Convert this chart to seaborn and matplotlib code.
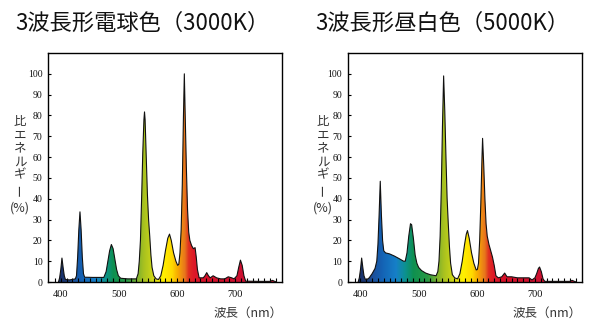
import numpy as np
import pandas as pd
import matplotlib
matplotlib.use("Agg")
import matplotlib.pyplot as plt
import seaborn as sns
from matplotlib import font_manager
from matplotlib.colors import LinearSegmentedColormap

# ---------------- data ----------------
titles = ["3波長形電球色（3000K）", "3波長形昼白色（5000K）"]
ylabel_chars = ["比", "エ", "ネ", "ル", "ギ", "ー", "(%)"]
xlabel_text = "波長（nm）"
xticks_major = [400, 500, 600, 700]
yticks = [0, 10, 20, 30, 40, 50, 60, 70, 80, 90, 100]

wl_3000 = [396, 398, 400, 402, 404, 406, 408, 415, 425, 427, 429, 431, 433, 435, 437, 439,
           441, 455, 474, 478, 481, 484, 487, 490, 493, 496, 499, 503, 515, 530, 533, 535,
           537, 539, 541, 543, 544, 545, 547, 549, 551, 553, 555, 557, 560, 564, 568, 572,
           576, 580, 584, 587, 590, 594, 598, 601, 603, 605, 607, 609, 611, 612.5, 614, 616,
           618, 620, 622, 625, 628, 631, 633, 635, 638, 645, 648, 651, 654, 657, 662, 668,
           675, 682, 688, 694, 698, 703, 706, 709, 712, 715, 718, 740, 760, 764, 768, 771]
e_3000 = [0, 2, 6, 11.5, 7, 3, 1.2, 1, 1.5, 3, 12, 25, 33.7, 25, 12, 4,
          2.3, 2.2, 2.2, 5, 10, 15, 18, 16, 11, 6, 3, 1.8, 1.5, 1.5, 4, 10,
          20, 40, 62, 78, 81.7, 78, 60, 42, 30, 22, 13, 7, 3, 1.5, 1.2, 3,
          8, 15, 21, 23, 20, 14, 10, 8, 8.5, 14, 25, 47, 80, 100, 80, 55,
          35, 24, 20, 17.5, 16, 16.5, 12, 6, 2, 2, 3, 4.5, 3, 2, 3, 2,
          1.5, 1.5, 2.5, 2, 1.5, 3, 7, 10.5, 8, 3, 0.4, 0.3, 0.3, 0.8, 0.3, 0]

wl_5000 = [396, 398, 400, 402, 404, 406, 408, 410, 415, 420, 425, 428, 430, 432, 434, 436,
           438, 440, 443, 450, 458, 466, 474, 477, 480, 483, 486, 488, 491, 494, 497, 500,
           505, 512, 520, 530, 533, 535, 537, 539, 541, 543, 545, 547, 549, 551, 553, 555,
           558, 562, 567, 571, 575, 579, 582, 584, 587, 591, 595, 599, 601, 603, 605, 607,
           609, 610, 612, 614, 616, 618, 621, 624, 627, 630, 633, 637, 643, 648, 652, 660,
           670, 680, 690, 695, 700, 703, 706, 708, 711, 714, 717, 740, 760, 764, 768, 771]
e_5000 = [0, 2, 6, 11.5, 7, 3, 1.5, 1, 2, 4, 6.5, 10, 18, 32, 48.4, 32,
          20, 15, 14, 13.5, 12.5, 11.3, 10, 10, 14, 22, 28, 27.5, 21, 13, 9, 7,
          5.5, 4.3, 3.5, 3, 5, 10, 22, 45, 75, 99, 82, 60, 40, 28, 17, 9,
          3.5, 2, 1.5, 4, 10, 18, 23, 24.7, 21, 14, 9, 5.8, 6, 9, 20, 38,
          60, 69, 56, 40, 28, 22, 18, 15, 12, 8, 3, 2, 2.5, 4.3, 2.5, 2.5,
          2, 2, 2, 1, 2, 4, 6.5, 7.2, 5, 1.5, 0.3, 0.3, 0.3, 0.8, 0.3, 0]

spectra = [(wl_3000, e_3000), (wl_5000, e_5000)]

# wavelength -> colour stops of the fill gradient
grad_wl = [380, 405, 420, 436, 460, 476, 490, 515, 530, 542, 556, 566, 576, 592, 600,
           607, 613, 620, 628, 645, 700, 780]
grad_col = ["#14285a", "#1a3570", "#1c4f9a", "#1462b4", "#1680c8", "#0c9290", "#0e9050",
            "#2a9a45", "#78b030", "#a6c020", "#c8d418", "#e8e410", "#fff000", "#ffd800",
            "#f8b000", "#f09010", "#e8781c", "#e03020", "#de1a28", "#d81028", "#d01030",
            "#c01030"]

# ---------------- style ----------------
sns.set_style("white")
plt.rcParams['font.family'] = ['Noto Sans CJK JP', 'DejaVu Sans']


def pick_font(names):
    for n in names:
        try:
            font_manager.findfont(n, fallback_to_default=False)
            return n
        except Exception:
            pass
    return 'DejaVu Serif'


tick_font = pick_font(['Liberation Sans Narrow', 'Liberation Serif', 'DejaVu Serif'])

W, H = 604, 334
fig = plt.figure(figsize=(W / 100, H / 100), dpi=100)

lo, hi = grad_wl[0], grad_wl[-1]
cmap = LinearSegmentedColormap.from_list(
    "spec", [((w - lo) / (hi - lo), c) for w, c in zip(grad_wl, grad_col)])

ax_lefts = [48, 347.7]
ax_w = 234.3
ax_top, ax_bot = 53, 282
title_x = [15, 315]
ylab_x = [20, 323]

for i, (wl, e) in enumerate(spectra):
    ax = fig.add_axes([ax_lefts[i] / W, 1 - ax_bot / H, ax_w / W, (ax_bot - ax_top) / H])
    ax.set_axisbelow(False)
    df = pd.DataFrame({"wl": wl, "e": e})
    poly = ax.fill_between(df["wl"], 0, df["e"], facecolor="none", edgecolor="none")
    grad = np.linspace(0, 1, 800).reshape(1, -1)
    im = ax.imshow(grad, cmap=cmap, aspect="auto", extent=[lo, hi, 0, 110],
                   origin="lower", zorder=1, interpolation="bilinear")
    path = poly.get_paths()[0]
    im.set_clip_path(path, transform=ax.transData)
    sns.lineplot(data=df, x="wl", y="e", ax=ax, color="#111111", lw=0.8,
                 sort=False, estimator=None, zorder=3)
    ax.set_xlim(378, 781)
    ax.set_ylim(0, 110)
    ax.set_xlabel("")
    ax.set_ylabel("")
    for s in ax.spines.values():
        s.set_color("black")
        s.set_linewidth(1.0)
        s.set_zorder(5)
    ax.set_xticks(xticks_major)
    ax.set_xticks(list(range(390, 780, 10)), minor=True)
    ax.set_yticks(yticks)
    ax.tick_params(axis="x", which="both", direction="in", length=3, width=0.8,
                   colors="black", pad=6, labelsize=7.5, bottom=True, top=False)
    ax.tick_params(axis="y", which="major", direction="in", length=2.5, width=0.8,
                   colors="black", pad=4, labelsize=7, left=True, right=False)
    for lab in ax.get_xticklabels() + ax.get_yticklabels():
        lab.set_family(tick_font)
        lab.set_color("#111111")
    ax.grid(False)

    fig.text(title_x[i] / W, 1 - 23 / H, titles[i], fontsize=16, color="#111111",
             ha="left", va="center")
    ys = [121, 135, 148, 162, 175, 190, 208]
    for ch, yy in zip(ylabel_chars, ys):
        fig.text(ylab_x[i] / W, 1 - yy / H, ch, fontsize=9, color="#333333",
                 ha="center", va="center", rotation=90 if ch == "ー" else 0)
    fig.text((ax_lefts[i] + ax_w) / W, 1 - 313 / H, xlabel_text, fontsize=9,
             color="#333333", ha="right", va="center")

fig.savefig("out.png", dpi=100)
